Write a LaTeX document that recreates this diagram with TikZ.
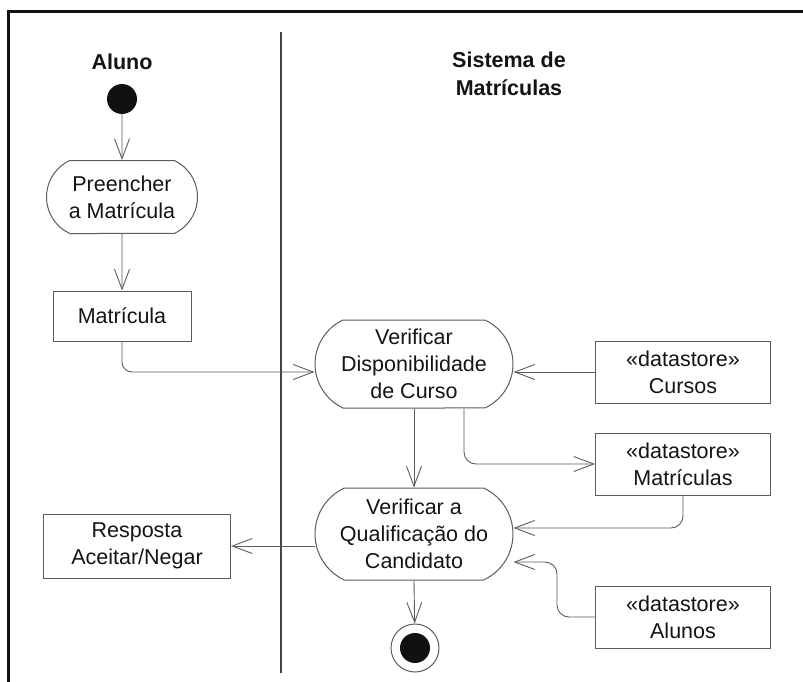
\documentclass[tikz,border=0pt]{standalone}
\usepackage{fontspec}
\setmainfont{Liberation Sans}
\usetikzlibrary{arrows.meta,shapes.misc}
\definecolor{ink}{HTML}{111111}
\definecolor{txt}{HTML}{141414}
\definecolor{edge}{HTML}{5C5C5C}
\definecolor{lanecol}{HTML}{444444}
\begin{document}
\begin{tikzpicture}[x=1pt,y=-1pt,
  every node/.style={font=\fontsize{21.5}{27}\selectfont, text=txt, inner sep=0pt},
  lane/.style={font=\fontsize{21.5}{28}\selectfont\bfseries, align=center},
  action/.style={draw=edge, line width=1pt, rounded rectangle, rounded rectangle arc length=130,
    align=center, minimum width=198pt, minimum height=88pt},
  objbox/.style={draw=edge, line width=1pt, rectangle, align=center,
    minimum width=175pt, minimum height=62pt},
  flow/.style={draw=edge, line width=0.9pt, -{Straight Barb[length=20pt,width=15pt]}},
  dot/.style={circle, fill=ink, minimum size=30pt},
]
\useasboundingbox (0,0) rectangle (803,682);

% frame and swimlane divider
\draw[line width=3pt, ink] (8,682) -- (8,12) -- (803,12);
\draw[line width=2pt, lanecol] (281,32) -- (281,673);

% lane headings
\node[lane] (hAluno) at (122,62) {Aluno};
\node[lane, anchor=north] (hSistema) at (509,52) {Sistema de\\Matrículas};

% nodes
\node[dot] (start) at (122,99) {};
\node[action, minimum width=151pt, minimum height=73pt] (fill) at (122,197) {Preencher\\a Matrícula};
\node[objbox, minimum width=138pt, minimum height=50pt] (form) at (122,316) {Matrícula};
\node[action] (avail) at (414,364) {Verificar\\Disponibilidade\\de Curso};
\node[objbox] (courses) at (683,372) {«datastore»\\Cursos};
\node[objbox] (enrol) at (683,464) {«datastore»\\Matrículas};
\node[action, minimum height=92pt] (qual) at (414,534) {Verificar a\\Qualificação do\\Candidato};
\node[objbox, minimum width=187pt, minimum height=64pt] (reply) at (137,546) {Resposta\\Aceitar/Negar};
\node[objbox] (students) at (683,617) {«datastore»\\Alunos};
\node[circle, draw=edge, line width=1pt, minimum size=48pt] (end) at (415,648) {};
\node[dot] (endDot) at (end.center) {};

% flows
\draw[flow] (start) -- (fill);
\draw[flow] (fill) -- (form);
\draw[flow, rounded corners=10pt] (form.south) |- (courses.west -| avail.west);
\draw[flow] (courses.west) -- (courses.west -| avail.east);
\draw[flow] (avail.south) -- (qual.north);
\draw[flow, rounded corners=12pt] ([xshift=50pt]avail.south) |- (enrol.west);
\draw[flow, rounded corners=12pt] (enrol.south) |- ([yshift=6pt]qual.east);
\draw[flow, rounded corners=12pt] (students.west) -- ++(-38,0) |- ([yshift=-28pt]qual.east);
\draw[flow] (qual.west |- reply.east) -- (reply.east);
\draw[flow] (qual.south) -- (end);
\end{tikzpicture}
\end{document}
